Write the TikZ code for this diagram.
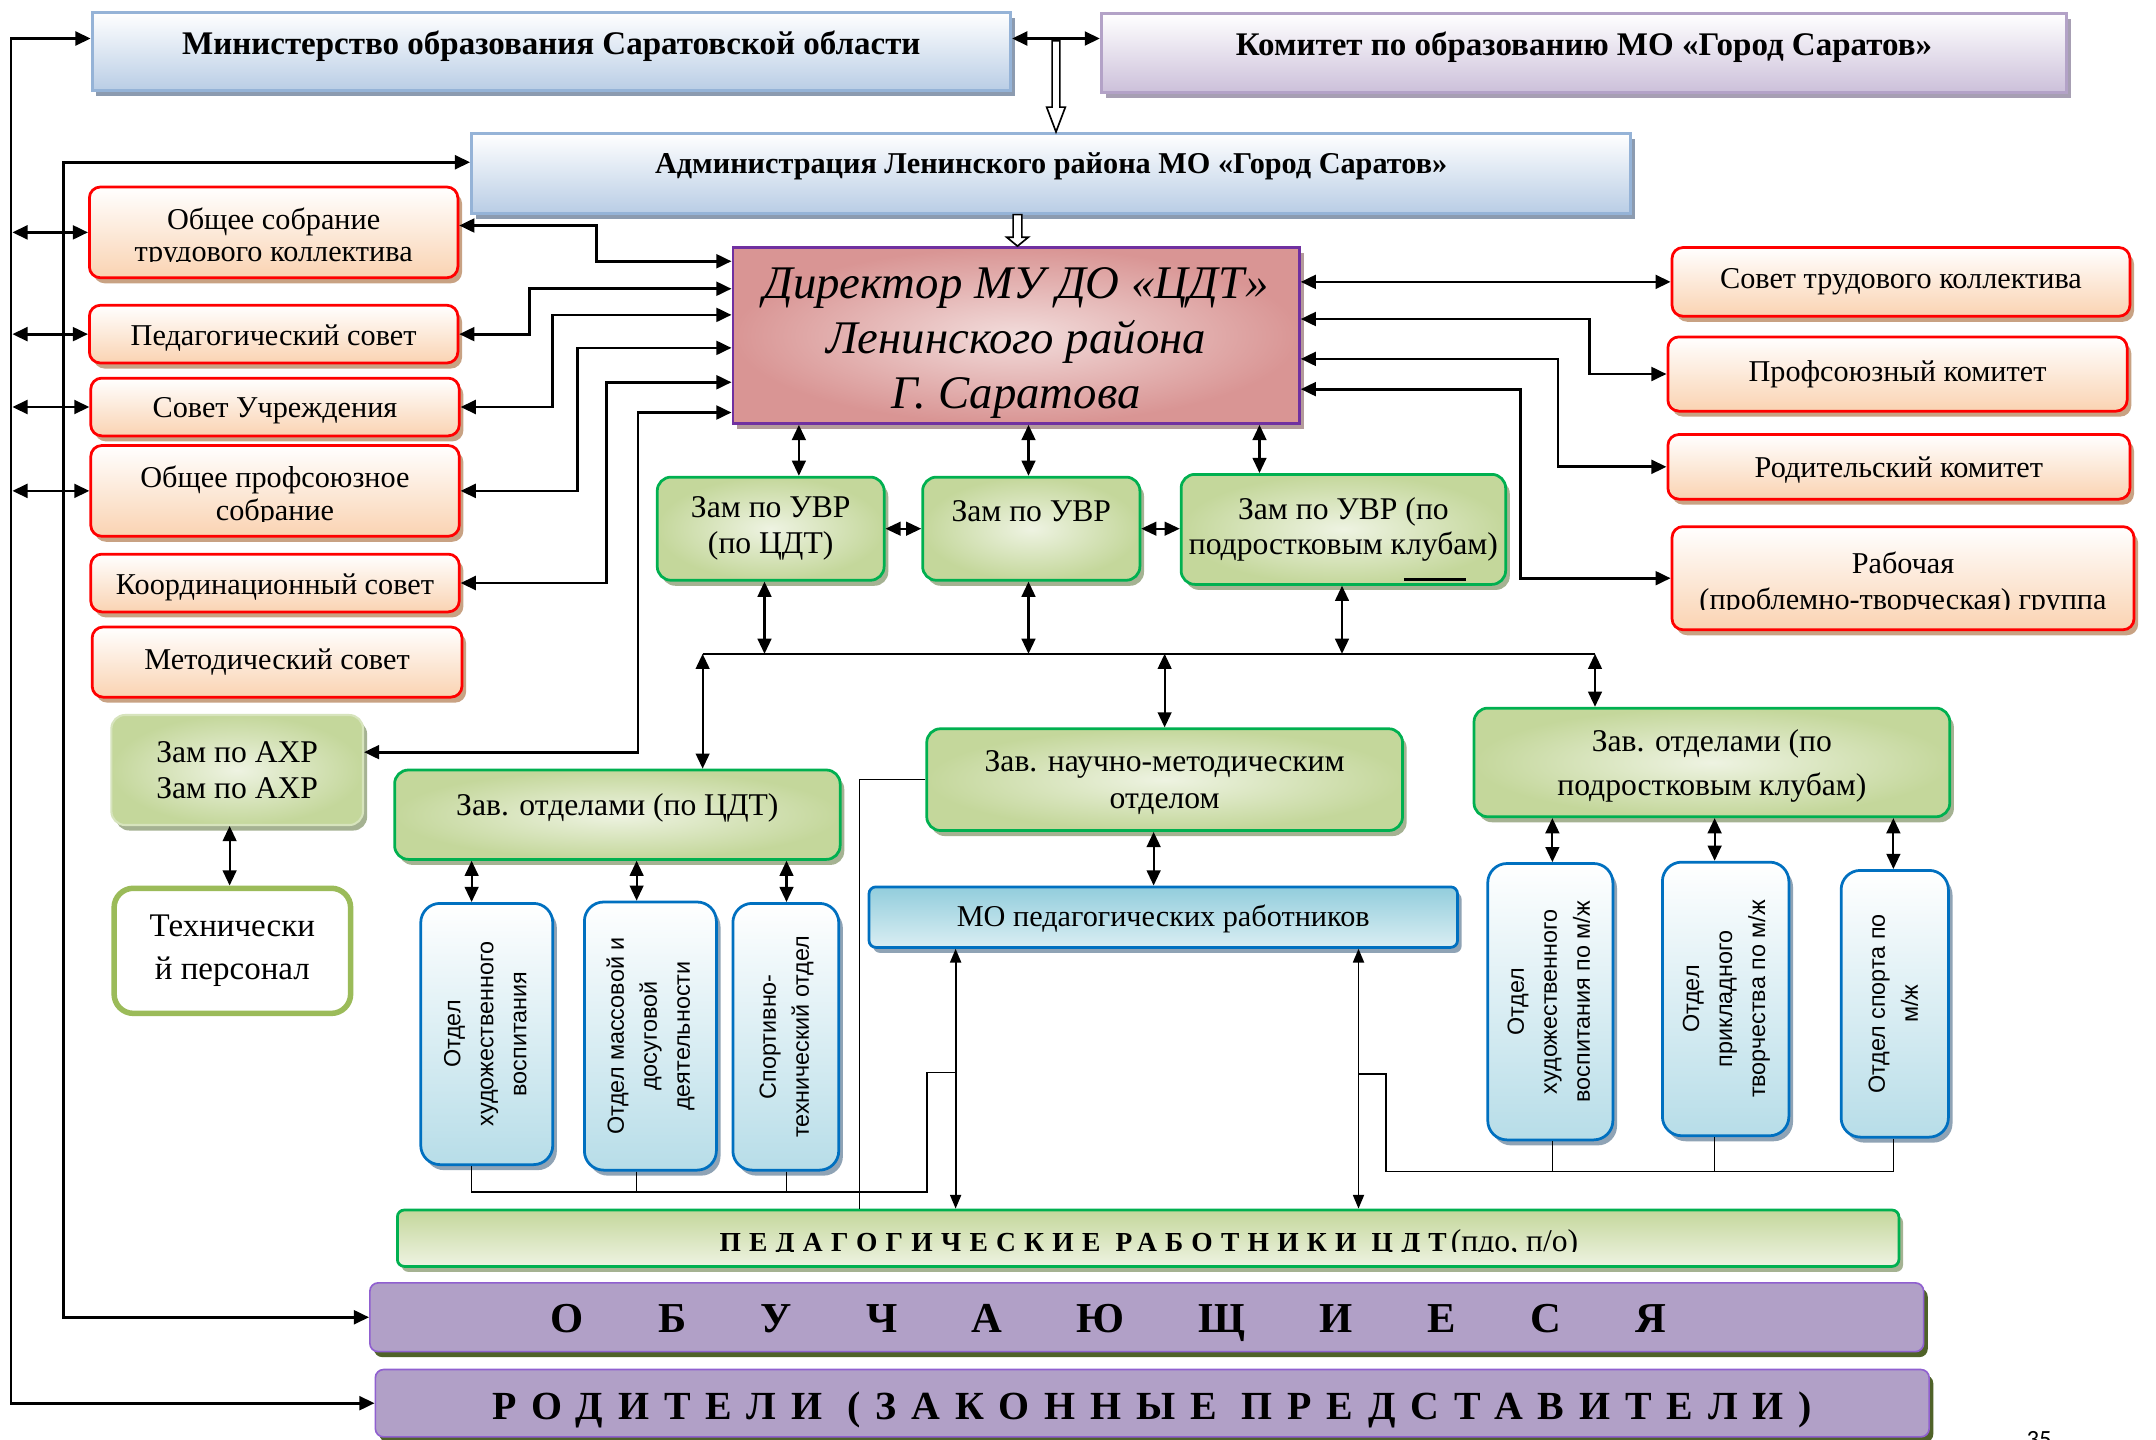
\documentclass[tikz,border=0pt]{standalone}
\usepackage{fontspec}
\setmainfont{Liberation Serif}
\setsansfont{Liberation Sans}
\newfontfamily\numfont{Carlito}
\newfontfamily\spacedA[LetterSpace=30]{Liberation Serif}
\newfontfamily\spacedB[LetterSpace=37.5]{Liberation Serif}
\usepackage{graphicx}
\usetikzlibrary{arrows.meta,shadows,calc}
\definecolor{bluebd}{HTML}{95B3D7}
\definecolor{bluebt}{HTML}{B9CDE5}
\definecolor{blueshd}{HTML}{8C9BB0}
\definecolor{purbd}{HTML}{B3A2C7}
\definecolor{purbt}{HTML}{CCC0DA}
\definecolor{purshd}{HTML}{A79FB3}
\definecolor{redbt}{HTML}{FAD3B2}
\definecolor{redshd}{HTML}{C8A283}
\definecolor{dirbd}{HTML}{7030A0}
\definecolor{dirin}{HTML}{F2DCDB}
\definecolor{dirout}{HTML}{D99594}
\definecolor{dirshd}{HTML}{B49B9B}
\definecolor{grbd}{HTML}{00B050}
\definecolor{grin}{HTML}{EEF3E2}
\definecolor{grout}{HTML}{C4D79B}
\definecolor{grshd}{HTML}{A5B292}
\definecolor{axrbd}{HTML}{D7E4BD}
\definecolor{techbd}{HTML}{9BBB59}
\definecolor{bvbd}{HTML}{0070C0}
\definecolor{bvbt}{HTML}{B7DDE8}
\definecolor{bvshd}{HTML}{8FA3B5}
\definecolor{motop}{HTML}{92CDDC}
\definecolor{mobt}{HTML}{DAEEF3}
\definecolor{pfill}{HTML}{B1A0C7}
\definecolor{pbd}{HTML}{9060D0}
\definecolor{pshd}{HTML}{4F6228}
\newcommand{\fsz}[2]{\fontsize{#1}{#2}\selectfont}
\newcommand{\vtext}[1]{\rotatebox{90}{\begin{tabular}{@{}c@{}}#1\end{tabular}}}
\newcommand{\mvy}[2]{\raisebox{#1}[\height][\depth]{#2}}
\begin{document}
\begin{tikzpicture}[x=1pt,y=-1pt,
  shad/.style={drop shadow={shadow xshift=3pt,shadow yshift=-4pt,fill=#1,opacity=1}},
  topbox/.style={draw=bluebd,line width=2.2pt,top color=white,bottom color=bluebt,shad=blueshd,inner sep=0pt,font=\fsz{24}{28}\bfseries},
  combox/.style={draw=purbd,line width=2.2pt,top color=white,bottom color=purbt,shad=purshd,inner sep=0pt,font=\fsz{24}{28}\bfseries},
  redbox/.style={draw=red,line width=2pt,rounded corners=8pt,top color=white,bottom color=redbt,shad=redshd,align=center,inner sep=0pt,font=\fsz{22}{24}},
  dirbox/.style={draw=dirbd,line width=2pt,inner color=dirin,outer color=dirout,shad=dirshd,align=center,inner sep=0pt,font=\fsz{34}{40}\itshape},
  grbox/.style={draw=grbd,line width=2pt,rounded corners=10pt,inner color=grin,outer color=grout,shad=grshd,align=center,inner sep=0pt,font=\fsz{23}{26}},
  axrbox/.style={grbox,draw=axrbd,line width=1.5pt},
  techbox/.style={draw=techbd,line width=4pt,rounded corners=14pt,fill=white,align=center,inner sep=0pt,font=\fsz{24}{31}},
  bvbox/.style={draw=bvbd,line width=2pt,rounded corners=14pt,top color=white,bottom color=bvbt,shad=bvshd,inner sep=0pt,font=\sffamily\fsz{17}{24}},
  mobox/.style={draw=bvbd,line width=2pt,rounded corners=5pt,top color=motop,bottom color=mobt,shad=bvshd,inner sep=0pt,font=\fsz{22}{26}},
  pedbox/.style={draw=grbd,line width=2pt,rounded corners=5pt,top color=grout,bottom color=grin,shad=grshd,inner sep=0pt},
  purbox/.style={draw=pbd,line width=1.2pt,rounded corners=6pt,fill=pfill,shad=pshd,inner sep=0pt},
  txt/.style={inner sep=0pt,font=\fsz{22}{24},anchor=base},
  darr/.style={{Triangle[length=11pt,width=10pt]}-{Triangle[length=11pt,width=10pt]},line width=2pt},
  darrm/.style={{Triangle[length=11pt,width=10pt]}-{Triangle[length=11pt,width=10pt]},line width=1.5pt},
  darrt/.style={{Triangle[length=10pt,width=8pt]}-{Triangle[length=10pt,width=8pt]},line width=1.3pt},
  thinl/.style={line width=1.1pt},
  hollow/.style={draw=black,fill=white,line width=1.2pt,line join=miter}]
\useasboundingbox (0,0) rectangle (1568,1047);
\clip (0,0) rectangle (1568,1047);
\fill[white] (0,0) rectangle (1568,1047);

% top boxes
\node[topbox,minimum width=668pt,minimum height=57pt] (min) at (401,37.5) {\mvy{4pt}{Министерство образования Саратовской области}};
\node[combox,minimum width=702pt,minimum height=57pt] (com) at (1152,38.5) {\mvy{4pt}{Комитет по образованию МО «Город Саратов»}};
\node[topbox,font=\fsz{22}{26}\bfseries,minimum width=843pt,minimum height=58pt] (adm) at (764.5,126) {\mvy{5pt}{Администрация Ленинского района МО «Город Саратов»}};
\node[dirbox,minimum width=412pt,minimum height=128pt] (dir) at (739,244) {\rule{0pt}{34pt}Директор МУ ДО «ЦДТ»\\Ленинского района\\Г. Саратова};

% left red boxes
\node[redbox,minimum width=268pt,minimum height=66pt] (osb) at (199,169) {};
\node[redbox,minimum width=268pt,minimum height=42pt] (ped) at (199,243) {\mvy{-3pt}{Педагогический совет}};
\node[redbox,minimum width=268pt,minimum height=42pt] (sov) at (200,296) {\mvy{-3pt}{Совет Учреждения}};
\node[redbox,minimum width=268pt,minimum height=66pt] (opr) at (200,357) {};
\node[redbox,minimum width=268pt,minimum height=42pt] (koo) at (200,424) {\mvy{-3pt}{Координационный совет}};
\node[redbox,minimum width=269pt,minimum height=51pt] (met) at (201.5,481.5) {Методический совет};
% right red boxes
\node[redbox,minimum width=333pt,minimum height=50pt] (stk) at (1382.5,205) {Совет трудового коллектива};
\node[redbox,minimum width=334pt,minimum height=54pt] (prof) at (1380,272) {Профсоюзный комитет};
\node[redbox,minimum width=336pt,minimum height=47pt] (rodk) at (1381,339.5) {\mvy{-2pt}{Родительский комитет}};
\node[redbox,minimum width=336pt,minimum height=75pt] (rab) at (1384,420.5) {};

% texts cut at their lower edge
\node[txt] (osbt1) at (199,167) {Общее собрание};
\begin{scope}\clip (60,130) rectangle (340,190.5);
\node[txt] (osbt2) at (199,190) {трудового коллектива};\end{scope}
\node[txt] (oprt1) at (200,354.5) {Общее профсоюзное};
\begin{scope}\clip (60,320) rectangle (340,379);
\node[txt] (oprt2) at (200,378.5) {собрание};\end{scope}
\node[txt] (rabt1) at (1384,417) {Рабочая};
\begin{scope}\clip (1210,380) rectangle (1560,443.5);
\node[txt] (rabt2) at (1384,443) {(проблемно-творческая) группа};\end{scope}

% green boxes
\node[grbox,minimum width=165pt,minimum height=75pt] (zam1) at (560.5,384.5) {Зам по УВР\\(по ЦДТ)};
\node[grbox,minimum width=158pt,minimum height=75pt] (zam2) at (750,384.5) {Зам по УВР\\\phantom{Зам}};
\node[grbox,minimum width=236pt,minimum height=80pt] (zam3) at (977,385) {Зам по УВР (по\\подростковым клубам)};
\draw[line width=2pt] (1021,421.5) -- (1066,421.5);
\node[axrbox,minimum width=183pt,minimum height=80pt] (axr) at (172.5,560) {Зам по АХР\\Зам по АХР};
\node[techbox,minimum width=172pt,minimum height=91pt] (tech) at (169,691.5) {Технически\\й персонал};
\node[grbox,minimum width=324pt,minimum height=65pt] (zavc) at (449,592.5) {\mvy{5pt}{Зав. отделами (по ЦДТ)}};
\node[grbox,font=\fsz{23}{27},minimum width=346pt,minimum height=74pt] (zavn) at (847,567) {\rule{0pt}{20pt}Зав. научно-методическим\\отделом};
\node[grbox,font=\fsz{23}{32},minimum width=346pt,minimum height=79pt] (zavk) at (1245,554.5) {\rule{0pt}{21pt}Зав. отделами (по\\подростковым клубам)};
\node[mobox,minimum width=428pt,minimum height=44pt] (mo) at (846,667) {\mvy{-1pt}{МО педагогических работников}};

% vertical department boxes
\node[bvbox,minimum width=96pt,minimum height=190pt] (ov1) at (354,752) {\vtext{Отдел\\художественного\\воспитания}};
\node[bvbox,minimum width=96pt,minimum height=195pt] (ov2) at (473,753.5) {\vtext{Отдел массовой и\\досуговой\\деятельности}};
\node[bvbox,minimum width=77pt,minimum height=194pt] (ov3) at (571.5,754) {\vtext{Спортивно-\\технический отдел}};
\node[bvbox,minimum width=91pt,minimum height=201pt] (ovk1) at (1127.5,728.5) {\vtext{Отдел\\художественного\\воспитания по м/ж}};
\node[bvbox,minimum width=92pt,minimum height=199pt] (ovk2) at (1255,726.5) {\vtext{Отдел\\прикладного\\творчества по м/ж}};
\node[bvbox,minimum width=78pt,minimum height=194pt] (ovk3) at (1378,730) {\vtext{Отдел спорта по\\м/ж}};

% bottom bands
\node[pedbox,minimum width=1092pt,minimum height=41pt] (pedr) at (835,900.5) {};
\begin{scope}\clip (289,876) rectangle (1381,910.5);
\node[txt] (pedt) at (835.5,910) {{\spacedA\fsz{20}{22}\bfseries ПЕДАГОГИЧЕСКИЕ РАБОТНИКИ ЦДТ}\hspace{3pt}{\fsz{23}{24}(пдо, п/о)}};\end{scope}
\node[purbox,minimum width=1130pt,minimum height=50pt] (obu) at (834,958) {\mvy{-4pt}{\fsz{31}{34}\bfseries О\hspace{54pt}Б\hspace{54pt}У\hspace{54pt}Ч\hspace{54pt}А\hspace{54pt}Ю\hspace{54pt}Щ\hspace{54pt}И\hspace{54pt}Е\hspace{54pt}С\hspace{54pt}Я\hspace{56pt}}};
\node[purbox,minimum width=1130pt,minimum height=49pt] (rod) at (838,1020.5) {\mvy{-5pt}{\spacedB\fsz{29}{32}\bfseries РОДИТЕЛИ (ЗАКОННЫЕ ПРЕДСТАВИТЕЛИ)}};
\node[txt,font=\numfont\fsz{18}{20}] (pnum) at (1483,1052.5) {35};

% outer connectors
\draw[darr] (rod.west) -| (8,28) -- (min.west |- 8,28);
\draw[darr] (9,0 |- osb.west) -- (osb.west);
\draw[darr] (9,0 |- ped.west) -- (ped.west);
\draw[darr] (9,0 |- sov.west) -- (sov.west);
\draw[darr] (9,0 |- opr.west) -- (opr.west);
\draw[darr] (obu.west) -| (46,118) -- (adm.west |- 46,118);
\draw[darr] (min.east |- 0,28) -- (com.west |- 0,28);

% hollow arrows
\coordinate (h1t) at (768,29.6);
\coordinate (h1b) at (adm.north -| h1t);
\draw[hollow] ($(h1t)+(-2.8,0)$) -- ($(h1b)+(-2.8,-18)$) -- ($(h1b)+(-6.8,-18)$) -- (h1b) -- ($(h1b)+(6.8,-18)$) -- ($(h1b)+(2.8,-18)$) -- ($(h1t)+(2.8,0)$) -- cycle;
\coordinate (h2t) at (adm.south -| 740,0);
\coordinate (h2b) at (dir.north -| 740,0);
\draw[hollow] ($(h2t)+(-3.2,0)$) -- ($(h2b)+(-3.2,-6.5)$) -- ($(h2b)+(-7.9,-6.5)$) -- (h2b) -- ($(h2b)+(7.9,-6.5)$) -- ($(h2b)+(3.2,-6.5)$) -- ($(h2t)+(3.2,0)$) -- cycle;

% director, left side
\draw[darr] ([yshift=5pt]osb.east) -| (434,190) -- (dir.west |- 0,190);
\draw[darr] (ped.east) -| (385,210) -- (dir.west |- 0,210);
\draw[darr] (sov.east) -| (402,229) -- (dir.west |- 0,229);
\draw[darr] (opr.east) -| (420,253) -- (dir.west |- 0,253);
\draw[darr] (koo.east) -| (441,278) -- (dir.west |- 0,278);
\draw[darr] ([yshift=13pt]axr.east) -| (464,300) -- (dir.west |- 0,300);
% director, right side
\draw[darr] (dir.east |- stk.west) -- (stk.west);
\draw[darr] (dir.east |- 0,232) -| (prof.west -| 1156,0) -- (prof.west);
\draw[darr] (dir.east |- 0,261) -| (rodk.west -| 1133,0) -- (rodk.west);
\draw[darr] (dir.east |- 0,283) -| (rab.west -| 1106,0) -- (rab.west);
% director, down
\draw[darrm] (dir.south -| 581,0) -- (zam1.north -| 581,0);
\draw[darrm] (dir.south -| 748,0) -- (zam2.north -| 748,0);
\draw[darrm] (dir.south -| 916,0) -- (zam3.north -| 916,0);
\draw[darrm] (zam1.east) -- (zam2.west);
\draw[darrm] (zam2.east) -- (zam3.west |- zam2.east);
% bus
\coordinate (busL) at (511,475.5);
\coordinate (busR) at (1160,475.5);
\draw[thinl] (busL) -- (busR);
\draw[darrm] (zam1.south -| 556,0) -- (busL -| 556,0);
\draw[darrm] (zam2.south -| 748,0) -- (busL -| 748,0);
\draw[darrm] (zam3.south -| 976,0) -- (busL -| 976,0);
\draw[darrm] (busL) -- (zavc.north -| busL);
\draw[darrm] (busL -| 847,0) -- (zavn.north -| 847,0);
\draw[darrm] (busR) -- (zavk.north -| busR);
% heads to departments
\draw[darrm] (zavc.south -| 343,0) -- (ov1.north -| 343,0);
\draw[darrm] (zavc.south -| 463,0) -- (ov2.north -| 463,0);
\draw[darrm] (zavc.south -| 572,0) -- (ov3.north -| 572,0);
\draw[darrm] (zavk.south -| 1129,0) -- (ovk1.north -| 1129,0);
\draw[darrm] (zavk.south -| 1247,0) -- (ovk2.north -| 1247,0);
\draw[darrm] (zavk.south -| 1377,0) -- (ovk3.north -| 1377,0);
\draw[darrm] (zavn.south -| 839,0) -- (mo.north -| 839,0);
\draw[darrm] (axr.south -| 167,0) -- (tech.north -| 167,0);
% lower links
\draw[thinl] (zavn.west) -| (pedr.north -| 625,0);
\draw[thinl] (ov1.south -| 343,0) |- (674,867) |- (695,780);
\draw[thinl] (ov2.south -| 463,0) -- (463,867);
\draw[thinl] (ov3.south -| 572,0) -- (572,867);
\draw[darrt] (mo.south -| 695,0) -- (pedr.north -| 695,0);
\draw[darrt] (mo.south -| 988,0) -- (pedr.north -| 988,0);
\draw[thinl] (ovk3.south -| 1377,0) |- (1008,852) |- (988,781);
\draw[thinl] (ovk1.south -| 1129,0) -- (1129,852);
\draw[thinl] (ovk2.south -| 1247,0) -- (1247,852);
\end{tikzpicture}
\end{document}
